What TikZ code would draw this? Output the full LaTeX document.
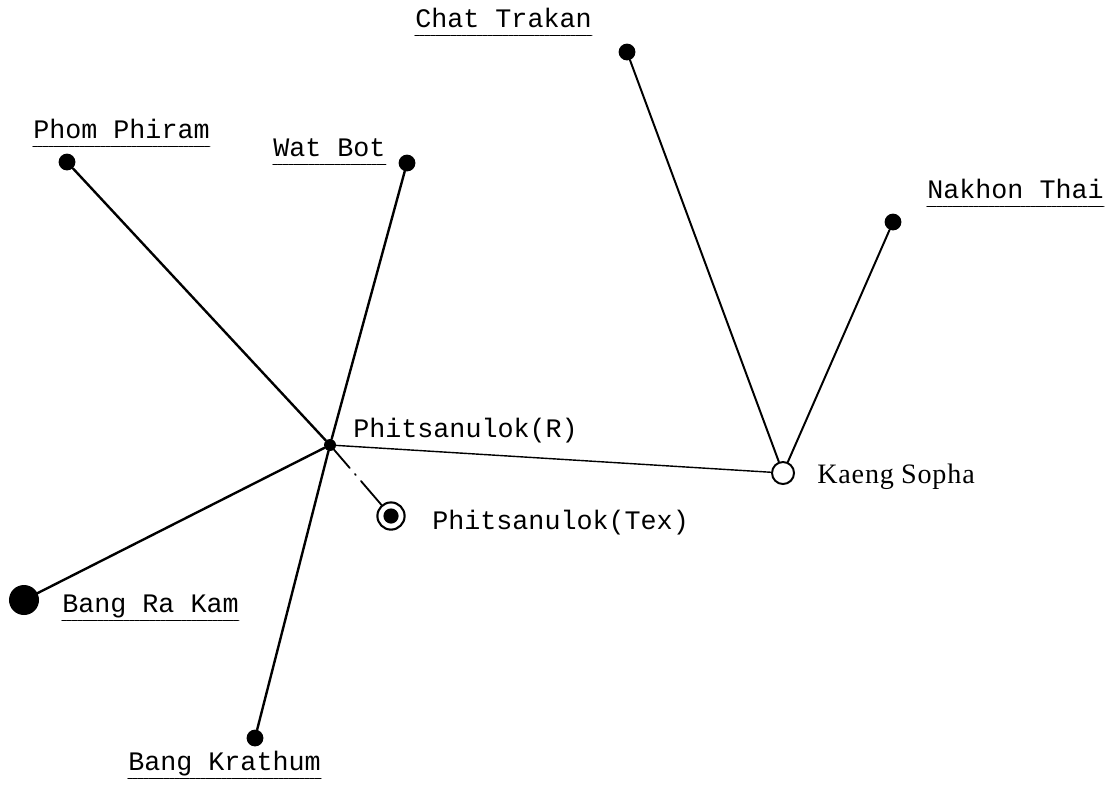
\documentclass[tikz,border=0pt]{standalone}
\usepackage{fontspec}
\newfontfamily\stnfont{Liberation Mono}
\newfontfamily\kaengfont[LetterSpace=3]{Liberation Serif}
\newcommand\lblfont{\stnfont\fontsize{19}{22}\selectfont}
\newcommand\kslblfont{\kaengfont\fontsize{20}{24}\selectfont}
\begin{document}
\begin{tikzpicture}[x=0.025cm, y=-0.025cm, line cap=round,
  stn/.style={circle, fill, inner sep=0pt, minimum size=0.42cm},
  bigstn/.style={circle, fill, inner sep=0pt, minimum size=0.75cm},
  hub/.style={circle, fill, inner sep=0pt, minimum size=0.3cm},
  openstn/.style={circle, draw, fill=white, line width=1.4pt, inner sep=0pt, minimum size=0.55cm},
  texstn/.style={circle, draw, line width=1.5pt, inner sep=0pt, minimum size=0.68cm,
    path picture={\fill (path picture bounding box.center) circle (0.19cm);}},
  link/.style={line width=1.7pt},
  uline/.style={line width=0.8pt, dash pattern=on 3pt off 0.7pt},
  tlabel/.style={font=\lblfont, inner sep=0pt, anchor=base west, text depth=0.2cm},
  ulabel/.style={tlabel, append after command={(\tikzlastnode.south west) edge[uline] (\tikzlastnode.south east)}}]
\useasboundingbox (0,0) rectangle (1115,785);
\node[hub] (rstn) at (330,445) {};
\node[texstn] (tex) at (391,516) {};
\node[openstn] (kaeng) at (783,473) {};
\node[stn] (phom) at (67,162) {};
\node[stn] (watbot) at (407,163) {};
\node[stn] (chat) at (627,52) {};
\node[stn] (nakhon) at (893,222) {};
\node[bigstn] (bangrakam) at (24,600) {};
\node[stn] (krathum) at (255,738) {};
\draw[link] (phom) -- (rstn);
\draw[link] (watbot) -- (rstn);
\draw[link] (rstn) -- (krathum);
\draw[link] (rstn) -- (bangrakam);
\draw[line width=1pt] (rstn) -- (kaeng);
\draw[line width=1.3pt, dash pattern=on 0.6cm off 0.2cm on 0.03cm off 0.2cm on 1cm] (rstn) -- (tex);
\draw[line width=1.4pt] (chat) -- (kaeng);
\draw[line width=1.4pt] (nakhon) -- (kaeng);
\node[ulabel] (phomlbl) at (33,138) {Phom Phiram};
\node[ulabel] (watbotlbl) at (273,156) {Wat Bot};
\node[ulabel] (chatlbl) at (415,27) {Chat Trakan};
\node[ulabel] (nakhonlbl) at (927,198) {Nakhon Thai};
\node[ulabel] (bangrakamlbl) at (62,612) {Bang Ra Kam};
\node[ulabel] (krathumlbl) at (128,770) {Bang Krathum};
\node[tlabel] (rlbl) at (353,437) {Phitsanulok(R)};
\node[tlabel] (texlbl) at (432,529) {Phitsanulok(Tex)};
\node[font=\kslblfont, inner sep=0pt, anchor=base west] (kaenglbl) at (817,483) {Kaeng\hspace{0.25em}Sopha};
\end{tikzpicture}
\end{document}
